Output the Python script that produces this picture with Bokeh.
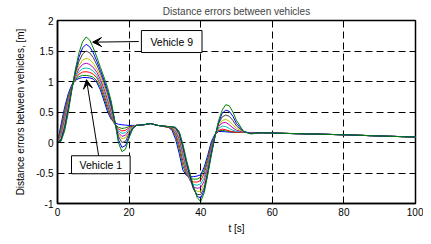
from bokeh.plotting import figure
from bokeh.models import Range1d, Label, Arrow, VeeHead, FixedTicker
from bokeh.embed import file_html
from bokeh.resources import INLINE

# time samples [s]
t = [0, 1, 2, 3, 4, 5, 6, 7, 8, 9, 10, 11, 12, 13, 14, 15, 16, 17, 18, 19, 20, 21, 22,
     24, 26, 28, 31,
     32, 33, 34, 35, 36, 37, 38, 39, 40, 41, 42, 43, 44, 45, 46, 47, 48, 49, 50,
     52, 54, 57, 63, 73, 81, 91, 100]

vehicle_1 = [0, 0.30, 0.58, 0.80, 0.95, 1.02, 1.05, 1.065, 1.065, 1.06, 1.04, 0.98, 0.86, 0.68, 0.50, 0.38, 0.32, 0.30, 0.29, 0.285, 0.28, 0.28, 0.28,
             0.29, 0.31, 0.28, 0.25,
             0.20, 0.05, -0.18, -0.45, -0.54, -0.56, -0.56, -0.55, -0.53, -0.40, -0.20, 0.02, 0.14, 0.18, 0.18, 0.175, 0.17, 0.17, 0.165,
             0.165, 0.16, 0.16, 0.15, 0.137, 0.125, 0.105, 0.09]
vehicle_2 = [0, 0.25, 0.52, 0.76, 0.93, 1.03, 1.08, 1.10, 1.10, 1.09, 1.07, 1.01, 0.90, 0.73, 0.55, 0.40, 0.30, 0.25, 0.23, 0.24, 0.26, 0.27, 0.28,
             0.29, 0.31, 0.28, 0.25,
             0.22, 0.10, -0.10, -0.38, -0.53, -0.59, -0.60, -0.60, -0.57, -0.45, -0.25, -0.02, 0.13, 0.19, 0.20, 0.19, 0.18, 0.17, 0.165,
             0.165, 0.16, 0.16, 0.15, 0.137, 0.125, 0.105, 0.09]
vehicle_3 = [0, 0.20, 0.47, 0.72, 0.92, 1.05, 1.12, 1.155, 1.16, 1.15, 1.12, 1.06, 0.95, 0.78, 0.60, 0.43, 0.30, 0.22, 0.19, 0.20, 0.24, 0.27, 0.28,
             0.29, 0.31, 0.28, 0.25,
             0.23, 0.14, -0.04, -0.30, -0.50, -0.61, -0.645, -0.65, -0.62, -0.51, -0.30, -0.05, 0.12, 0.20, 0.22, 0.21, 0.19, 0.175, 0.165,
             0.165, 0.16, 0.16, 0.15, 0.137, 0.125, 0.105, 0.09]
vehicle_4 = [0, 0.16, 0.42, 0.68, 0.91, 1.07, 1.16, 1.21, 1.22, 1.21, 1.17, 1.10, 0.99, 0.83, 0.65, 0.47, 0.31, 0.19, 0.15, 0.16, 0.22, 0.26, 0.28,
             0.29, 0.31, 0.28, 0.26,
             0.24, 0.17, 0.02, -0.23, -0.46, -0.62, -0.69, -0.70, -0.68, -0.57, -0.35, -0.08, 0.12, 0.23, 0.27, 0.26, 0.23, 0.20, 0.18,
             0.17, 0.16, 0.16, 0.15, 0.137, 0.125, 0.105, 0.09]
vehicle_5 = [0, 0.12, 0.37, 0.65, 0.90, 1.09, 1.21, 1.28, 1.30, 1.28, 1.23, 1.15, 1.03, 0.88, 0.70, 0.51, 0.32, 0.16, 0.10, 0.12, 0.20, 0.25, 0.28,
             0.29, 0.31, 0.28, 0.26,
             0.245, 0.19, 0.06, -0.17, -0.42, -0.62, -0.73, -0.75, -0.74, -0.63, -0.40, -0.11, 0.12, 0.26, 0.32, 0.33, 0.29, 0.24, 0.20,
             0.17, 0.16, 0.16, 0.15, 0.137, 0.125, 0.105, 0.09]
vehicle_6 = [0, 0.09, 0.32, 0.61, 0.89, 1.11, 1.26, 1.35, 1.38, 1.36, 1.30, 1.20, 1.08, 0.93, 0.75, 0.55, 0.33, 0.13, 0.06, 0.08, 0.18, 0.25, 0.28,
             0.29, 0.31, 0.28, 0.26,
             0.25, 0.21, 0.10, -0.12, -0.38, -0.60, -0.76, -0.80, -0.80, -0.69, -0.44, -0.14, 0.11, 0.28, 0.36, 0.38, 0.35, 0.29, 0.23,
             0.17, 0.155, 0.16, 0.15, 0.137, 0.125, 0.105, 0.09]
vehicle_7 = [0, 0.06, 0.27, 0.57, 0.88, 1.14, 1.33, 1.45, 1.50, 1.47, 1.39, 1.27, 1.13, 0.98, 0.80, 0.59, 0.34, 0.10, 0.00, 0.02, 0.15, 0.24, 0.28,
             0.29, 0.31, 0.28, 0.26,
             0.255, 0.23, 0.13, -0.08, -0.34, -0.57, -0.77, -0.85, -0.855, -0.74, -0.47, -0.16, 0.11, 0.31, 0.42, 0.45, 0.43, 0.36, 0.27,
             0.175, 0.15, 0.16, 0.15, 0.137, 0.125, 0.105, 0.09]
vehicle_8 = [0, 0.04, 0.23, 0.53, 0.87, 1.17, 1.40, 1.55, 1.61, 1.57, 1.47, 1.33, 1.18, 1.02, 0.85, 0.63, 0.35, 0.05, -0.08, -0.05, 0.11, 0.23, 0.28,
             0.29, 0.31, 0.28, 0.26,
             0.26, 0.24, 0.16, -0.05, -0.31, -0.54, -0.75, -0.88, -0.91, -0.78, -0.50, -0.18, 0.10, 0.33, 0.48, 0.53, 0.51, 0.43, 0.31,
             0.18, 0.15, 0.16, 0.15, 0.137, 0.125, 0.105, 0.09]
vehicle_9 = [0, 0.02, 0.19, 0.49, 0.86, 1.20, 1.47, 1.65, 1.73, 1.68, 1.55, 1.40, 1.23, 1.07, 0.90, 0.68, 0.36, 0.00, -0.15, -0.11, 0.08, 0.22, 0.28,
             0.29, 0.31, 0.28, 0.26,
             0.26, 0.25, 0.18, -0.02, -0.28, -0.50, -0.72, -0.90, -0.97, -0.82, -0.52, -0.20, 0.10, 0.36, 0.53, 0.62, 0.60, 0.50, 0.36,
             0.18, 0.14, 0.16, 0.15, 0.137, 0.125, 0.105, 0.09]

series = [vehicle_1, vehicle_2, vehicle_3, vehicle_4, vehicle_5, vehicle_6, vehicle_7, vehicle_8, vehicle_9]
colors = ["#0000FF", "#008000", "#FF0000", "#00BFBF", "#BF00BF", "#BFBF00", "#404040", "#0000FF", "#008000"]

x_ticks = [0, 20, 40, 60, 80, 100]
x_tick_labels = ["0", "20", "40", "60", "80", "100"]
y_ticks = [-1, -0.5, 0, 0.5, 1, 1.5, 2]
y_tick_labels = ["-1", "-0.5", "0", "0.5", "1", "1.5", "2"]

FONT = "Liberation Sans"

p = figure(width=423, height=236, output_backend="svg", toolbar_location=None,
           x_range=Range1d(0, 100), y_range=Range1d(-1, 2),
           min_border_left=57, min_border_right=8, min_border_top=20, min_border_bottom=30,
           x_axis_label="t [s]", y_axis_label="Distance errors between vehicles, [m]")

p.title.text = "Distance errors between vehicles"
p.title.align = "center"
p.title.text_font = FONT
p.title.text_font_size = "10px"
p.title.text_font_style = "normal"
p.title.standoff = 7
p.title.offset = 0

for ys, c in zip(series, colors):
    p.line(t, ys, line_color=c, line_width=1)

p.xaxis.ticker = FixedTicker(ticks=x_ticks)
p.yaxis.ticker = FixedTicker(ticks=y_ticks)
p.xaxis.major_label_overrides = dict(zip(x_ticks, x_tick_labels))
p.yaxis.major_label_overrides = {float(k): v for k, v in zip(y_ticks, y_tick_labels)}
p.yaxis.major_label_overrides.update({int(k): v for k, v in zip(y_ticks, y_tick_labels) if float(k).is_integer()})

for ax in (p.xaxis[0], p.yaxis[0]):
    ax.major_tick_in = 4
    ax.major_tick_out = 0
    ax.minor_tick_line_color = None
    ax.major_label_standoff = 4
    ax.major_label_text_font = FONT
    ax.major_label_text_font_size = "10px"
    ax.major_label_text_color = "black"
    ax.axis_label_text_font = FONT
    ax.axis_label_text_font_size = "10px"
    ax.axis_label_text_font_style = "normal"
    ax.axis_label_text_color = "black"
    ax.axis_line_color = "black"
    ax.axis_line_width = 1.5
    ax.major_tick_line_color = "black"
p.xaxis.axis_label_standoff = 4
p.yaxis.axis_label_standoff = 7

p.grid.grid_line_color = "black"
p.grid.grid_line_dash = "7 4"
p.grid.grid_line_width = 1
p.grid.grid_line_alpha = 1.0
p.xgrid.ticker = FixedTicker(ticks=x_ticks)
p.ygrid.ticker = FixedTicker(ticks=y_ticks)

p.outline_line_color = "black"
p.outline_line_width = 1.5
p.outline_line_alpha = 1.0

p.add_layout(Arrow(end=VeeHead(size=9, fill_color="black", line_color="black"),
                   x_start=22.7, y_start=1.655, x_end=9.8, y_end=1.645,
                   line_color="black", line_width=1))
p.add_layout(Arrow(end=VeeHead(size=9, fill_color="black", line_color="black"),
                   x_start=11.5, y_start=-0.22, x_end=8.1, y_end=1.03,
                   line_color="black", line_width=1))

p.add_layout(Label(x=31.9, y=1.655, text="Vehicle 9", text_align="center", text_baseline="middle",
                   text_font=FONT, text_font_size="10.5px", text_color="black",
                   border_line_color="black", border_line_width=1, background_fill_color="white",
                   padding=dict(left=9, right=9, top=5, bottom=5)))
p.add_layout(Label(x=12.1, y=-0.365, text="Vehicle 1", text_align="center", text_baseline="middle",
                   text_font=FONT, text_font_size="10.5px", text_color="black",
                   border_line_color="black", border_line_width=1, background_fill_color="white",
                   padding=dict(left=8, right=8, top=3, bottom=3)))

p.background_fill_color = "white"
p.border_fill_color = "white"

open("out.html", "w").write(file_html(p, INLINE))
